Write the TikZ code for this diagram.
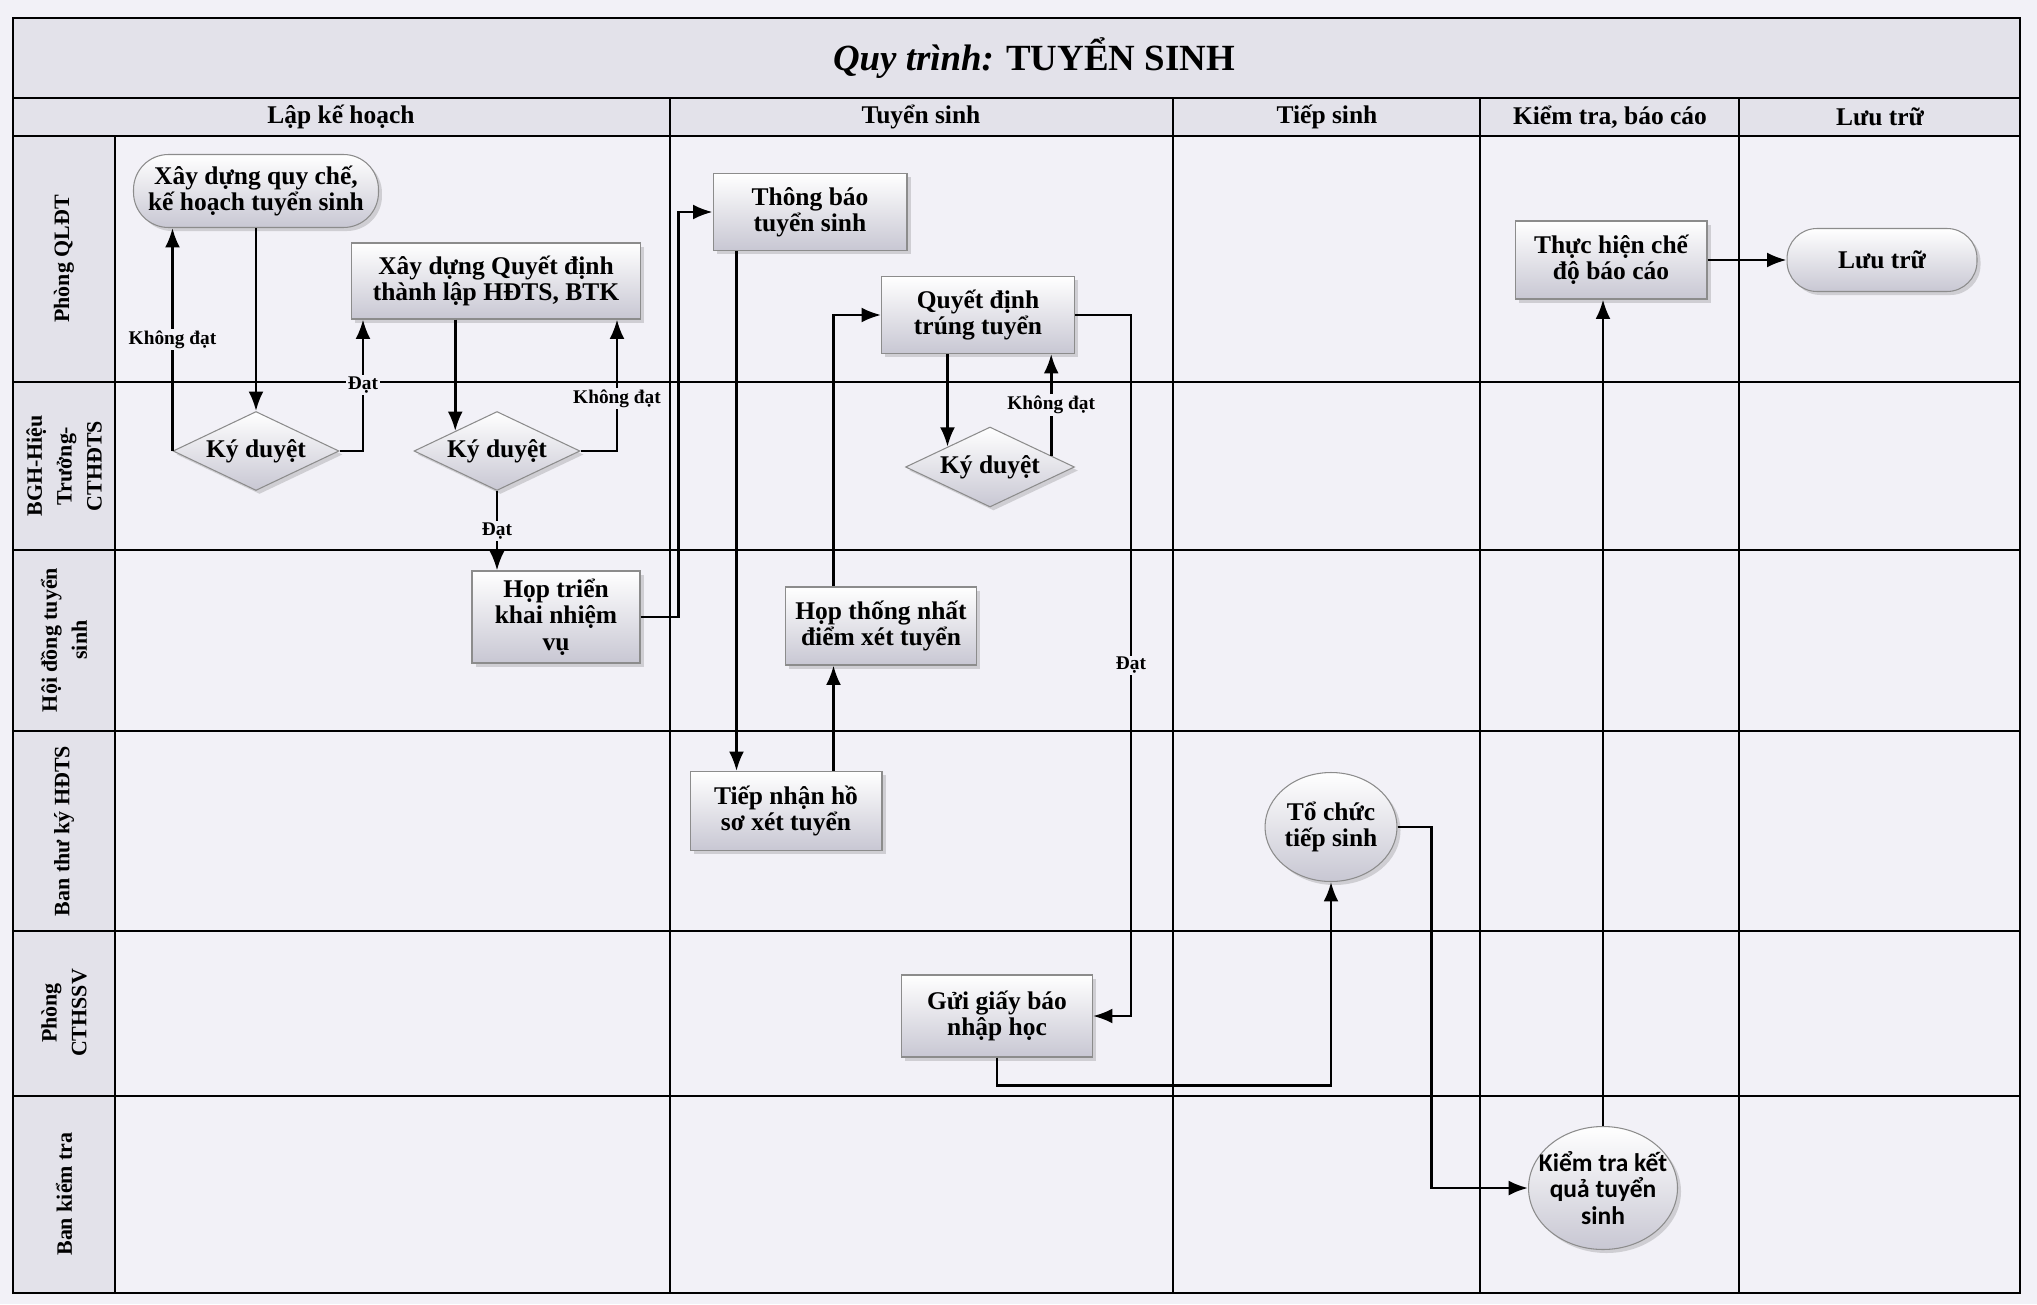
\documentclass[tikz,border=0pt]{standalone}
\usepackage{fontspec}
\setmainfont{Liberation Serif}
\newfontfamily\calfont{Carlito}
\usetikzlibrary{arrows.meta,shapes.geometric,shadows,calc}
\definecolor{paper}{RGB}{242,241,247}
\definecolor{band}{RGB}{227,226,234}
\definecolor{boxgray}{RGB}{200,199,211}
\begin{document}
\begin{tikzpicture}[x=0.02cm,y=-0.02cm,
    frameline/.style={line width=1.1pt},
    nodebox/.style={draw=black!45,line width=0.6pt,top color=white,bottom color=boxgray,
        drop shadow={shadow xshift=2pt,shadow yshift=-2pt,opacity=0.3},
        align=center,inner sep=2pt,font=\bfseries\fontsize{14.5}{15}\selectfont},
    proc/.style={nodebox,rectangle},
    term/.style={nodebox,rectangle,rounded corners=0.7cm},
    decis/.style={nodebox,diamond,aspect=2.1,inner sep=0pt,minimum width=3.32cm,minimum height=1.58cm},
    circ/.style={nodebox,ellipse,inner sep=0pt},
    arr/.style={line width=1.5pt,-{Latex[length=11pt,width=8.5pt]}},
    lbl/.style={fill=paper,inner sep=1pt,font=\bfseries\fontsize{11}{11}\selectfont},
    lane/.style={rotate=90,align=center,font=\bfseries\fontsize{12.5}{17}\selectfont},
    head/.style={font=\bfseries\fontsize{14.5}{15}\selectfont}]
    \useasboundingbox (0,0) rectangle (2037,1304);
    \fill[paper] (0,0) rectangle (2037,1304);
    %% frame, bands and lanes
    \fill[band] (13,18) rectangle (2020,136);
    \fill[band] (13,136) rectangle (115,1293);
    \draw[frameline] (13,18) rectangle (2020,1293);
    \draw[frameline] (13,98) -- (2020,98);
    \draw[frameline] (13,136) -- (2020,136);
    \draw[frameline] (115,136) -- (115,1293);
    \foreach \x in {670,1173,1480,1739}
        \draw[frameline] (\x,98) -- (\x,1293);
    \foreach \y in {382,550,731,931,1096}
        \draw[frameline] (13,\y) -- (2020,\y);
    %% title and headers
    \node[font=\bfseries\fontsize{21}{23}\selectfont] (title) at (1034,58) {\textit{Quy trình:} TUYỂN SINH};
    \node[head] (h1) at (341,117) {Lập kế hoạch};
    \node[head] (h2) at (921,117) {Tuyển sinh};
    \node[head] (h3) at (1327,117) {Tiếp sinh};
    \node[head] (h4) at (1610,117) {Kiểm tra, báo cáo};
    \node[head] (h5) at (1880,117) {Lưu trữ};
    %% lanes
    \node[lane] (l1) at (64,259) {Phòng QLĐT};
    \node[lane] (l2) at (64,466) {BGH-Hiệu\\Trưởng-\\CTHĐTS};
    \node[lane] (l3) at (64,640) {Hội đồng tuyển\\sinh};
    \node[lane] (l4) at (64,831) {Ban thư ký HĐTS};
    \node[lane] (l5) at (64,1013) {Phòng\\CTHSSV};
    \node[lane] (l6) at (64,1194) {Ban kiểm tra};
    %% steps
    \node[term,minimum width=4.9cm,minimum height=1.46cm] (QC) at (256,191) {Xây dựng quy chế,\\kế hoạch tuyển sinh};
    \node[decis] (KD1) at (256,451) {Ký duyệt};
    \node[proc,minimum width=5.78cm,minimum height=1.52cm] (QD) at (496,281) {Xây dựng Quyết định\\thành lập HĐTS, BTK};
    \node[decis] (KD2) at (497,451) {Ký duyệt};
    \node[proc,minimum width=3.36cm,minimum height=1.84cm] (TK) at (556,617) {Họp triển\\khai nhiệm\\vụ};
    \node[proc,minimum width=3.88cm,minimum height=1.54cm] (TB) at (810,212) {Thông báo\\tuyển sinh};
    \node[proc,minimum width=3.86cm,minimum height=1.54cm] (TT) at (978,315) {Quyết định\\trúng tuyển};
    \node[decis,minimum width=3.38cm,minimum height=1.6cm] (KD3) at (990,467) {Ký duyệt};
    \node[proc,minimum width=3.82cm,minimum height=1.56cm] (HS) at (881,626) {Họp thống nhất\\điểm xét tuyển};
    \node[proc,minimum width=3.84cm,minimum height=1.58cm] (TN) at (786,811) {Tiếp nhận hồ\\sơ xét tuyển};
    \node[proc,minimum width=3.82cm,minimum height=1.64cm] (GB) at (997,1016) {Gửi giấy báo\\nhập học};
    \node[circ,minimum width=2.64cm,minimum height=2.18cm] (TS) at (1331,827) {Tổ chức\\tiếp sinh};
    \node[circ,inner xsep=-7.5pt,minimum width=2.98cm,minimum height=2.46cm,font=\calfont\bfseries\fontsize{14.5}{15}\selectfont] (KT) at (1603,1188) {Kiểm tra kết\\quả tuyển\\sinh};
    \node[proc,minimum width=3.84cm,minimum height=1.56cm] (BC) at (1611,260) {Thực hiện chế\\độ báo cáo};
    \node[term,minimum width=3.8cm,minimum height=1.26cm,rounded corners=0.6cm] (LT) at (1882,260) {Lưu trữ};
    %% connectors
    \draw[arr] (QC) -- (KD1);
    \draw[arr] (KD1.west) -- (KD1.west |- QC.south) node[lbl,midway] (q1) {Không đạt};
    \draw[arr] (KD1.east) -| ($(QD.south west)+(12,0)$) node[lbl,pos=0.75] (q2) {Đạt};
    \draw[arr] (QD.south -| KD2.north west) -- (KD2.north west);
    \draw[arr] (KD2.east) -| ($(QD.south east)+(-24,0)$) node[lbl,pos=0.7] (q3) {Không đạt};
    \draw[arr] (KD2.south) -- (KD2.south |- TK.north) node[lbl,midway] (q4) {Đạt};
    \draw[arr] (TK.east) -- ++(38,0) |- (TB.west);
    \draw[arr] ($(TB.south west)+(24,0)$) coordinate (tb1) -- (tb1 |- TN.north);
    \draw[arr] ($(TN.north west)+(144,0)$) coordinate (tn1) -- (tn1 |- HS.south);
    \draw[arr] (HS.north -| tn1) |- (TT.west);
    \draw[arr] (TT.south -| KD3.north west) -- (KD3.north west);
    \draw[arr] ($(KD3.east)!0.28!(KD3.north)$) coordinate (k3) -- (k3 |- TT.south) node[lbl,midway] (q5) {Không đạt};
    \draw[arr] (TT.east) -- ++(56,0) |- (GB.east) node[lbl,pos=0.25] (q6) {Đạt};
    \draw[arr] (GB.south) -- ++(0,28) -| (TS.south);
    \draw[arr] (TS.east) -- ++(34,0) |- (KT.west);
    \draw[arr] (KT.north) -- (KT.north |- BC.south);
    \draw[arr] (BC) -- (LT);
\end{tikzpicture}
\end{document}
